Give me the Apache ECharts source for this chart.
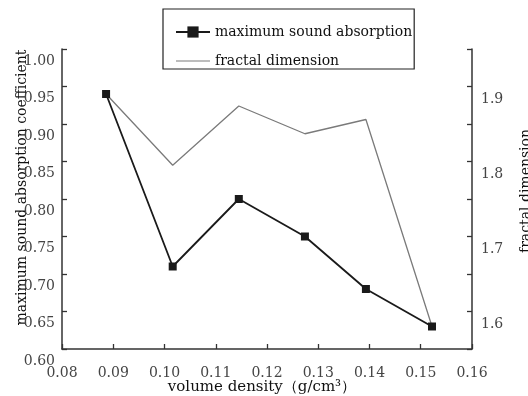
<!DOCTYPE html>
<html><head><meta charset="utf-8">
<script src="https://cdn.jsdelivr.net/npm/echarts@6/dist/echarts.min.js"></script>
<style>html,body{margin:0;padding:0;background:#fff}#c{width:528px;height:396px}</style>
</head><body><div id="c"></div>
<script>
var density = [0.0886, 0.1016, 0.1145, 0.1274, 0.1393, 0.1522];
var absorption = [0.940, 0.710, 0.800, 0.750, 0.680, 0.630];
var fractal = [1.890, 1.795, 1.874, 1.837, 1.856, 1.580];
var xTicks = [0.08, 0.09, 0.10, 0.11, 0.12, 0.13, 0.14, 0.15, 0.16];
var leftTicks = [0.60, 0.65, 0.70, 0.75, 0.80, 0.85, 0.90, 0.95, 1.00];
var rightTicks = [1.6, 1.7, 1.8, 1.9];

var FONT = 'DejaVu Serif';
var axisCol = '#333';
var chart = echarts.init(document.getElementById('c'), null, {renderer: 'canvas'});
chart.setOption({
  backgroundColor: '#fff',
  animation: false,
  textStyle: {fontFamily: FONT},
  grid: {left: 62, right: 56, top: 49, bottom: 47, outerBoundsMode: 'none', containLabel: false},
  legend: {
    orient: 'vertical', left: 163, top: 9,
    padding: [16, 2, 1, 12], itemGap: 15,
    itemWidth: 34, itemHeight: 14,
    borderColor: '#222', borderWidth: 1.2, backgroundColor: '#fff',
    textStyle: {fontFamily: FONT, fontSize: 14, color: '#111'},
    data: [
      {name: 'maximum sound absorption'},
      {name: 'fractal dimension', icon: 'path://M0,0 M0,6.4 L34,6.4 L34,7.6 L0,7.6 Z M34,14'}
    ]
  },
  xAxis: {
    type: 'value', min: 0.08, max: 0.16, interval: 0.01,
    name: 'volume density（g/cm³）', nameLocation: 'middle', nameGap: 31, nameMoveOverlap: false,
    nameTextStyle: {fontFamily: FONT, fontSize: 15, color: '#111', padding: [0, 10, 0, 0]},
    axisLine: {lineStyle: {color: axisCol, width: 1.5}},
    axisTick: {inside: true, length: 5, lineStyle: {color: axisCol, width: 1.3}},
    axisLabel: {fontFamily: FONT, fontSize: 14, color: '#444', margin: 17,
      formatter: function (v) { return xTicks.indexOf(+v.toFixed(2)) >= 0 ? v.toFixed(2) : ''; }},
    splitLine: {show: false}
  },
  yAxis: [{
    type: 'value', min: 0.60, max: 1.00, interval: 0.05, position: 'left',
    name: 'maximum sound absorption coefficient', nameLocation: 'middle', nameGap: 33, nameMoveOverlap: false,
    nameTextStyle: {fontFamily: FONT, fontSize: 14, color: '#111', padding: [0, 0, 0, 23]},
    axisLine: {show: true, lineStyle: {color: axisCol, width: 1.5}},
    axisTick: {show: true, inside: true, length: 5, lineStyle: {color: axisCol, width: 1.3}},
    axisLabel: {fontFamily: FONT, fontSize: 14, color: '#444', margin: 7,
      verticalAlign: 'top', lineHeight: 24,
      formatter: function (v) { return leftTicks.indexOf(+v.toFixed(2)) >= 0 ? v.toFixed(2) : ''; }},
    splitLine: {show: false}
  }, {
    type: 'value', min: 1.55, max: 1.95, interval: 0.05, position: 'right',
    name: 'fractal dimension', nameLocation: 'middle', nameGap: 47, nameMoveOverlap: false,
    nameTextStyle: {fontFamily: FONT, fontSize: 14, color: '#111', padding: [0, 0, 0, 16]},
    axisLine: {show: true, lineStyle: {color: axisCol, width: 1.5}},
    axisTick: {show: true, inside: true, length: 5, lineStyle: {color: axisCol, width: 1.3}},
    axisLabel: {fontFamily: FONT, fontSize: 14, color: '#444', margin: 9,
      verticalAlign: 'top', lineHeight: 25,
      formatter: function (v) { return rightTicks.indexOf(+v.toFixed(1)) >= 0 && Math.abs(v*10 - Math.round(v*10)) < 1e-6 ? v.toFixed(1) : ''; }},
    splitLine: {show: false}
  }],
  series: [{
    name: 'maximum sound absorption', type: 'line', yAxisIndex: 0,
    data: density.map(function (x, i) { return [x, absorption[i]]; }),
    symbol: 'rect', symbolSize: 8, showAllSymbol: true,
    lineStyle: {color: '#1a1a1a', width: 1.8},
    itemStyle: {color: '#1a1a1a'}, z: 3
  }, {
    name: 'fractal dimension', type: 'line', yAxisIndex: 1,
    data: density.map(function (x, i) { return [x, fractal[i]]; }),
    symbol: 'none',
    lineStyle: {color: '#7a7a7a', width: 1.3},
    itemStyle: {color: '#7a7a7a'}, z: 2
  }]
});
</script></body></html>
